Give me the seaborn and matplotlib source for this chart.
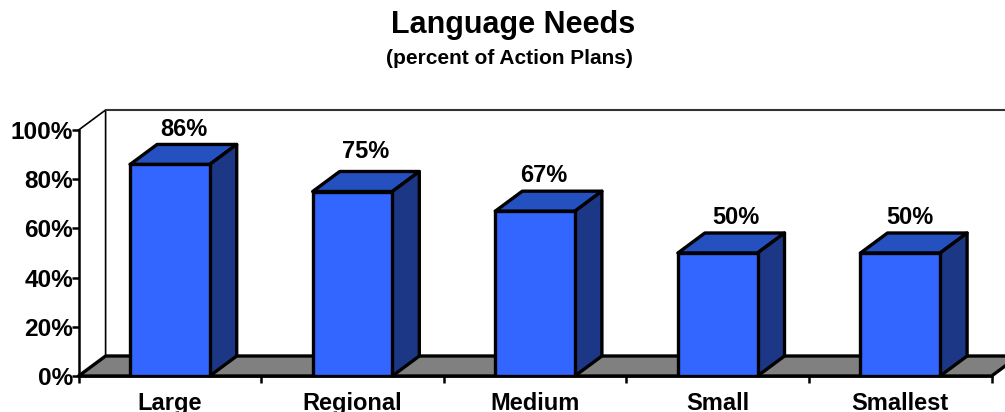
import matplotlib
matplotlib.use("Agg")

import matplotlib.pyplot as plt
import seaborn as sns
from matplotlib.patches import Polygon

categories = ["Large", "Regional", "Medium", "Small", "Smallest"]
values = [86, 75, 67, 50, 50]
value_labels = ["86%", "75%", "67%", "50%", "50%"]
y_ticks = [0, 20, 40, 60, 80, 100]
y_tick_labels = ["0%", "20%", "40%", "60%", "80%", "100%"]

W, H = 1005, 412
FRONT = "#3366FF"
TOP = "#2450C0"
SIDE = "#1C3785"
FLOOR = "#808080"

sns.set_theme(style="white")
plt.rcParams["font.family"] = ["Liberation Sans", "DejaVu Sans"]

fig = plt.figure(figsize=(W / 100, H / 100), dpi=100, facecolor="white")
# eje frontal del gráfico 3D: x 79-992, y 130-376 en píxeles
ax = fig.add_axes([78.6 / W, 1 - 376 / H, 913 / W, 246 / H])
ax.patch.set_alpha(0)

sns.barplot(x=categories, y=values, color=FRONT, saturation=1, width=0.436,
            edgecolor="black", linewidth=2.4, ax=ax, zorder=5)
ax.set_xlim(-0.5, 4.5)
ax.set_ylim(0, 100)

# profundidad del falso 3D en unidades de datos
dx = 27 / 182.6
dy = 20 / 246 * 100


def poly(pts, fc, z, ec="black", lw=2.4):
    ax.add_patch(Polygon(pts, closed=True, fc=fc, ec=ec, lw=lw, zorder=z,
                         clip_on=False, joinstyle="round"))


# suelo y pared del fondo
poly([(-0.5, 0), (-0.5 + dx, dy), (4.5 + dx, dy), (4.5, 0)], FLOOR, 2)
ax.plot([-0.5, -0.5 + dx, -0.5 + dx], [100, 100 + dy, dy], color="black", lw=1.2,
        clip_on=False, zorder=1)
ax.plot([-0.5 + dx, 4.5 + dx], [100 + dy, 100 + dy], color="#333333", lw=1.5,
        clip_on=False, zorder=1)

# caras superior y lateral de cada barra
for bar in ax.patches[:len(categories)]:
    x0, x1 = bar.get_x(), bar.get_x() + bar.get_width()
    h = bar.get_height()
    poly([(x0, h), (x0 + dx, h + dy), (x1 + dx, h + dy), (x1, h)], TOP, 4)
    poly([(x1, 0), (x1 + dx, dy), (x1 + dx, h + dy), (x1, h)], SIDE, 4)

# ajustes a mano de las etiquetas, que en el original no van alineadas
label_lift = [5.9, 8.2, 6.2, 6.3, 6.3]
label_shift = [0.0, 0.0, -0.027, 0.027, -0.022]
for i, (v, txt) in enumerate(zip(values, value_labels)):
    ax.text(i + dx / 2 + label_shift[i], v + dy + label_lift[i], txt, ha="center", va="center",
            fontsize=17, fontweight="bold", color="black", zorder=6, clip_on=False)

for s in ("top", "right"):
    ax.spines[s].set_visible(False)
for s in ("left", "bottom"):
    ax.spines[s].set_linewidth(1.8)
    ax.spines[s].set_color("black")
    ax.spines[s].set_zorder(3)

ax.set_yticks(y_ticks, y_tick_labels, fontsize=17.6, fontweight="bold", color="black")
ax.tick_params(axis="y", length=5, width=1.8, color="black", left=True, pad=-1)

# ticks en los límites de categoría, etiquetas centradas
ax.set_xticks([i - 0.5 for i in range(len(categories) + 1)], [""] * (len(categories) + 1))
ax.set_xticks(range(len(categories)), categories, minor=True, fontsize=17,
              fontweight="bold", color="black")
ax.tick_params(axis="x", which="major", length=5, width=1.8, color="black", bottom=True)
ax.tick_params(axis="x", which="minor", length=0, pad=11.5)
ax.set_xlabel("")
ax.set_ylabel("")

fig.text(513.5 / W, 1 - 25 / H, "Language Needs", ha="center", va="center", fontsize=22,
         fontweight="bold", color="black")
fig.text(509.5 / W, 1 - 58 / H, "(percent of Action Plans)", ha="center", va="center",
         fontsize=15, fontweight="bold", color="black")

fig.savefig("out.png", dpi=100)
